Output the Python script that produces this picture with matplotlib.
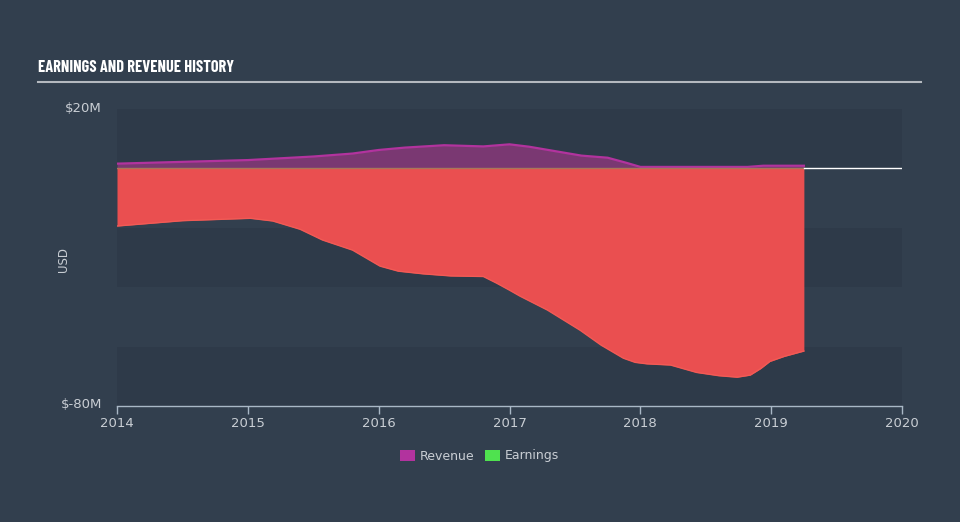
import matplotlib
matplotlib.use("Agg")
import matplotlib.pyplot as plt
from matplotlib.patches import Rectangle

# values in $M
rev_x = [2014.0, 2014.5, 2015.0, 2015.5, 2015.8, 2016.0, 2016.2, 2016.5, 2016.8, 2017.0,
         2017.15, 2017.35, 2017.55, 2017.75, 2017.9, 2018.0, 2018.5, 2018.82, 2018.94, 2019.25]
rev_y = [1.6, 2.2, 2.8, 4.0, 5.0, 6.2, 7.0, 7.8, 7.4, 8.1,
         7.3, 5.8, 4.3, 3.6, 1.8, 0.5, 0.5, 0.5, 0.9, 0.9]

earn_x = [2014.0, 2014.5, 2015.02, 2015.19, 2015.4, 2015.57, 2015.8, 2016.01, 2016.15, 2016.34,
          2016.55, 2016.8, 2016.9, 2017.0, 2017.08, 2017.29, 2017.54, 2017.7, 2017.87, 2017.96,
          2018.05, 2018.23, 2018.43, 2018.6, 2018.74, 2018.84, 2018.92, 2018.99, 2019.1, 2019.25]
earn_y = [-19.4, -17.6, -16.8, -17.7, -20.5, -24.1, -27.5, -32.9, -34.6, -35.5,
          -36.2, -36.4, -38.6, -41.0, -43.0, -47.7, -54.5, -59.5, -63.9, -65.3,
          -65.8, -66.2, -68.7, -69.8, -70.3, -69.6, -67.4, -65.0, -63.3, -61.5]

years = [2014, 2015, 2016, 2017, 2018, 2019, 2020]
y_min, y_max = -80, 20

bg = "#323f4e"
band_dark = "#2e3a49"
red = "#ea4f50"
purple_line = "#b2339e"
purple_fill = "#7a3872"
green = "#4fe24f"
txt = "#c9ced4"

fig = plt.figure(figsize=(9.6, 5.22), dpi=100)
fig.patch.set_facecolor(bg)
ax = fig.add_axes([117 / 960, 1 - 406 / 522, 785 / 960, 297 / 522])
ax.set_facecolor(bg)
ax.set_xlim(2014, 2020)
ax.set_ylim(y_min, y_max)

# alternating horizontal bands
for lo in [0, -40, -80]:
    ax.axhspan(lo, lo + 20, color=band_dark, lw=0, zorder=0)

ax.fill_between(rev_x, 0, rev_y, color=purple_fill, lw=0, zorder=2)
ax.plot(rev_x, rev_y, color=purple_line, lw=1.6, zorder=3)
ax.fill_between(earn_x, 0, earn_y, color=red, lw=0, zorder=4)
ax.plot(earn_x, earn_y, color="#f25a55", lw=1, zorder=4)
ax.plot([2014, earn_x[-1]], [0, 0], color="#a8765a", lw=1, zorder=5)
ax.plot([earn_x[-1], 2020], [0, 0], color="white", lw=1, zorder=5)

for s in ["top", "right", "left"]:
    ax.spines[s].set_visible(False)
ax.spines["bottom"].set_color("#a9b8c6")
ax.spines["bottom"].set_linewidth(1)
ax.set_xticks(years)
ax.set_xticklabels([str(y) for y in years])
ax.tick_params(axis="x", colors="#a9b8c6", length=6, width=1, labelcolor=txt,
               labelsize=9.5, pad=2)
ax.set_yticks([])

fig.text(102 / 960, 1 - 108 / 522, "$20M", color=txt, fontsize=9.5, ha="right", va="center")
fig.text(102 / 960, 1 - 404 / 522, "$-80M", color=txt, fontsize=9.5, ha="right", va="center")
fig.text(63 / 960, 1 - 260 / 522, "USD", color=txt, fontsize=8.5, rotation=90,
         ha="center", va="center")

# title with rule beneath
fig.text(38 / 960, 1 - 68 / 522, "EARNINGS AND REVENUE HISTORY", color="white",
         fontsize=11.8, fontweight="bold", family=["Barlow Condensed", "DejaVu Sans"],
         ha="left", va="center")
fig.add_artist(plt.Line2D([38 / 960, 921 / 960], [1 - 82 / 522, 1 - 82 / 522],
                          color="#b4b9bf", lw=1.5))

# legend
for x0, col, lab in [(400, purple_line, "Revenue"), (485, green, "Earnings")]:
    fig.add_artist(Rectangle((x0 / 960, 1 - 461 / 522), 15 / 960, 11 / 522,
                             color=col, lw=0))
    fig.text((x0 + 20) / 960, 1 - 456 / 522, lab, color=txt, fontsize=9,
             ha="left", va="center")

fig.savefig("out.png", dpi=100, facecolor=bg)
